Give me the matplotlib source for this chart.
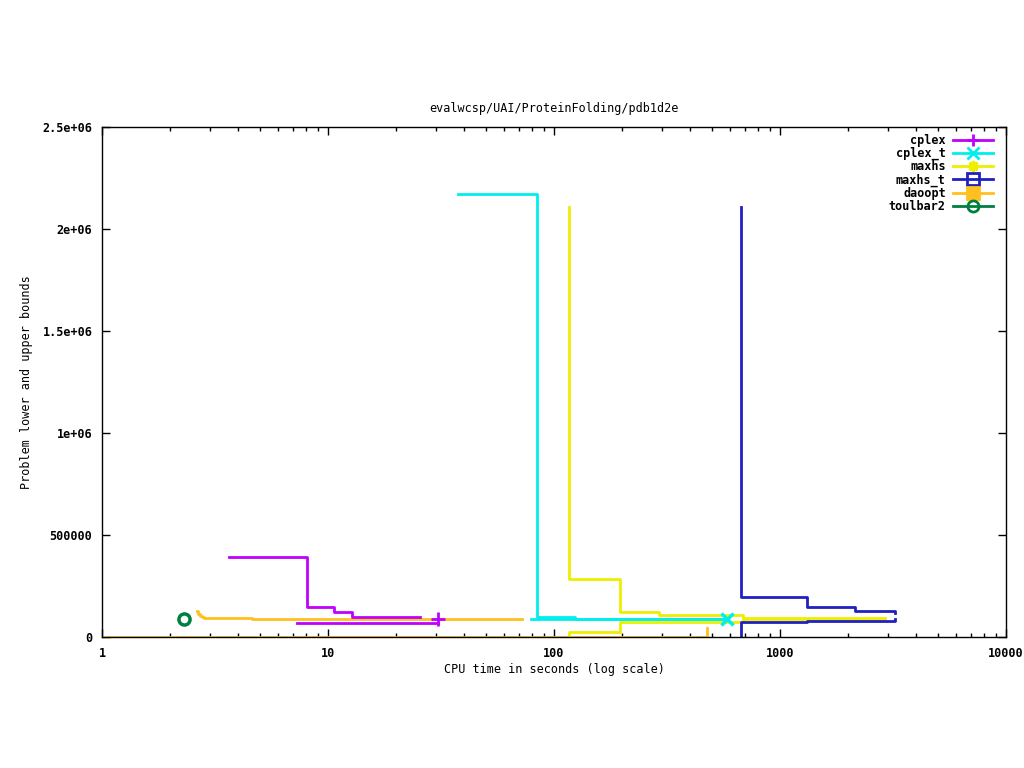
"""
plot.py
Lower/upper bounds over CPU time for the pdb1d2e protein folding instance.
"""

import matplotlib
matplotlib.use("Agg")
import matplotlib.pyplot as plt
from matplotlib.lines import Line2D

# --- data (time in s, bound value) ---
cplex_ub_t = [3.65, 8.07, 10.6, 12.8, 25.5]
cplex_ub_v = [392000, 147000, 122500, 98000, 98000]
cplex_lb_t = [7.29, 30.7]
cplex_lb_v = [68600, 68600]
cplex_end = (30.7, 88000)

cplex_t_ub_t = [37.6, 84.1, 124, 581]
cplex_t_ub_v = [2172000, 96000, 88000, 88000]
cplex_t_lb_t = [79.1, 581]
cplex_t_lb_v = [86000, 86000]
cplex_t_end = (581, 88000)

maxhs_ub_t = [117, 117, 196, 291.6, 686, 2915]
maxhs_ub_v = [2109000, 284000, 124000, 108000, 94600, 94600]
maxhs_lb_t = [117, 117, 196, 686, 2915]
maxhs_lb_v = [0, 24500, 75000, 87000, 87000]

maxhs_t_ub_t = [672, 672, 1321, 2148, 3228, 3228]
maxhs_t_ub_v = [2110000, 194600, 145600, 129000, 129000, 118000]
maxhs_t_lb_t = [672, 672, 1321, 3228, 3228]
maxhs_t_lb_v = [0, 72000, 78400, 78400, 87000]

daoopt_ub_t = [2.63, 2.66, 2.71, 2.77, 2.83, 4.6, 72.0]
daoopt_ub_v = [129000, 115000, 105000, 98000, 93000, 88000, 88000]
daoopt_lb_t = [1.0, 475, 475]
daoopt_lb_v = [0, 0, 44000]

toulbar2_pt = (2.31, 88000)

names = ["cplex", "cplex_t", "maxhs", "maxhs_t", "daoopt", "toulbar2"]
colors = ["#c000ff", "#00eeee", "#eeee00", "#2020c0", "#ffc020", "#008040"]
markers = ["+", "x", (8, 2, 0), "s", "s", "o"]
marker_fill = ["none", "none", "none", "none", "#ffc020", "none"]

yticks = [0, 500000, 1000000, 1500000, 2000000, 2500000]
ytick_labels = ["0", "500000", "1e+06", "1.5e+06", "2e+06", "2.5e+06"]
xticks = [1, 10, 100, 1000, 10000]
xtick_labels = ["1", "10", "100", "1000", "10000"]

plt.rcParams["font.family"] = ["DejaVu Sans Mono"]
plt.rcParams["font.weight"] = "bold"
plt.rcParams["font.size"] = 8.5

fig = plt.figure(figsize=(10.24, 7.68), dpi=100)
ax = fig.add_axes([102 / 1024, 1 - 637 / 768, 904 / 1024, 510 / 768])

lw = 2.0
c = dict(zip(names, colors))

ax.plot(daoopt_lb_t, daoopt_lb_v, color=c["daoopt"], lw=lw, drawstyle="steps-post")
ax.plot(daoopt_ub_t, daoopt_ub_v, color=c["daoopt"], lw=lw, drawstyle="steps-post")

ax.plot(cplex_ub_t, cplex_ub_v, color=c["cplex"], lw=lw, drawstyle="steps-post")
ax.plot(cplex_lb_t, cplex_lb_v, color=c["cplex"], lw=lw, drawstyle="steps-post")
ax.plot(*cplex_end, marker="+", ms=10, mew=2, color=c["cplex"])

ax.plot(cplex_t_ub_t, cplex_t_ub_v, color=c["cplex_t"], lw=lw, drawstyle="steps-post")
ax.plot(cplex_t_lb_t, cplex_t_lb_v, color=c["cplex_t"], lw=lw, drawstyle="steps-post")

ax.plot(maxhs_ub_t, maxhs_ub_v, color=c["maxhs"], lw=lw, drawstyle="steps-post")
ax.plot(maxhs_lb_t, maxhs_lb_v, color=c["maxhs"], lw=lw, drawstyle="steps-post")
ax.plot(*cplex_t_end, marker="x", ms=8, mew=2.5, color=c["cplex_t"])

ax.plot(maxhs_t_ub_t, maxhs_t_ub_v, color=c["maxhs_t"], lw=lw, drawstyle="steps-post")
ax.plot(maxhs_t_lb_t, maxhs_t_lb_v, color=c["maxhs_t"], lw=lw, drawstyle="steps-post")

ax.plot(*toulbar2_pt, marker="o", ms=8, mew=2.5, mfc="none", color=c["toulbar2"])

ax.set_xscale("log")
ax.set_xlim(1, 10000)
ax.set_ylim(0, 2500000)
ax.set_xticks(xticks)
ax.set_xticklabels(xtick_labels)
ax.set_yticks(yticks)
ax.set_yticklabels(ytick_labels)
ax.tick_params(which="both", direction="in", top=True, right=True, width=1)
ax.tick_params(which="major", length=6, pad=7)
ax.tick_params(which="minor", length=3)
for s in ax.spines.values():
    s.set_linewidth(1)

ax.set_title("evalwcsp/UAI/ProteinFolding/pdb1d2e", fontsize=8.5, pad=11)
ax.set_xlabel("CPU time in seconds (log scale)", labelpad=2)
ax.set_ylabel("Problem lower and upper bounds", labelpad=7)

handles = [Line2D([], [], color=col, lw=lw, marker=m, ms=8, mew=2, mfc=mf)
           for col, m, mf in zip(colors, markers, marker_fill)]
ax.legend(handles, names, loc="upper right", bbox_to_anchor=(0.9856, 0.986),
          frameon=False, markerfirst=False, handlelength=3.4, handletextpad=0.6,
          labelspacing=0.0, borderpad=0, borderaxespad=0)

fig.savefig("out.png", dpi=100)
